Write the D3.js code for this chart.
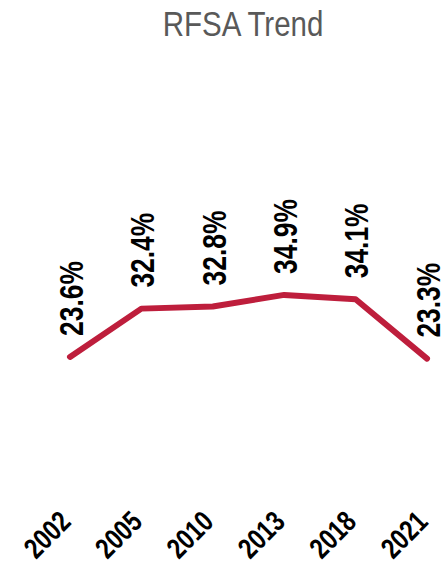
<!DOCTYPE html>
<html>
<head>
<meta charset="utf-8">
<script src="https://cdn.jsdelivr.net/npm/d3@7"></script>
<style>
  body { margin: 0; background: #fff; }
  .narrow { font-family: "Liberation Sans", Arial, sans-serif; }
</style>
</head>
<body>
<div class="chart"></div>
<script>
var years = ["2002", "2005", "2010", "2013", "2018", "2021"];
var rfsa = [23.6, 32.4, 32.8, 34.9, 34.1, 23.3];
var titre = "RFSA Trend";

var width = 444, height = 570;
var serre = 0.8; // police etroite (type Arial Narrow)

var svg = d3.select(".chart")
    .append("svg")
    .attr("width", width)
    .attr("height", height);

// axes
var xScale = d3.scalePoint()
    .domain(years)
    .range([70, 427]);

var yScale = d3.scaleLinear()
    .domain([0, 50])
    .range([486.5, 212]);

var data = years.map(function (y, i) {
    return {annee: y, valeur: rfsa[i]};
});

var valueline = d3.line()
    .x(function (d) { return xScale(d.annee); })
    .y(function (d) { return yScale(d.valeur); });

svg.append("path")
    .datum(data)
    .attr("fill", "none")
    .attr("stroke", "#be1e3c")
    .attr("stroke-width", 6)
    .attr("stroke-linecap", "round")
    .attr("stroke-linejoin", "round")
    .attr("d", valueline);

// etiquettes des valeurs
svg.append("g").selectAll("text")
    .data(data)
    .enter().append("text")
    .attr("class", "narrow")
    .attr("transform", function (d) {
        return "translate(" + (xScale(d.annee) + 1) + "," + (yScale(d.valeur) - 21) + ") rotate(-90) scale(" + serre + ",1)";
    })
    .attr("dy", "0.36em")
    .attr("text-anchor", "start")
    .style("font-size", "33px")
    .style("font-weight", "bold")
    .style("fill", "#000")
    .text(function (d) { return d.valeur.toFixed(1) + "%"; });

// axe x (sans ligne)
var xAxis = svg.append("g")
    .attr("transform", "translate(0,486)");

xAxis.selectAll("text")
    .data(years)
    .enter().append("text")
    .attr("class", "narrow")
    .attr("transform", function (d) {
        return "translate(" + (xScale(d) - 5) + "," + 30 + ") rotate(-45) scale(" + serre + ",1)";
    })
    .attr("dy", "0.36em")
    .attr("text-anchor", "end")
    .style("font-size", "29px")
    .style("font-weight", "bold")
    .style("fill", "#000")
    .text(function (d) { return d; });

// titre
svg.append("text")
    .attr("class", "narrow")
    .attr("transform", "translate(243,36) scale(0.82,1)")
    .attr("text-anchor", "middle")
    .style("font-size", "36px")
    .style("fill", "#595959")
    .text(titre);
</script>
</body>
</html>
